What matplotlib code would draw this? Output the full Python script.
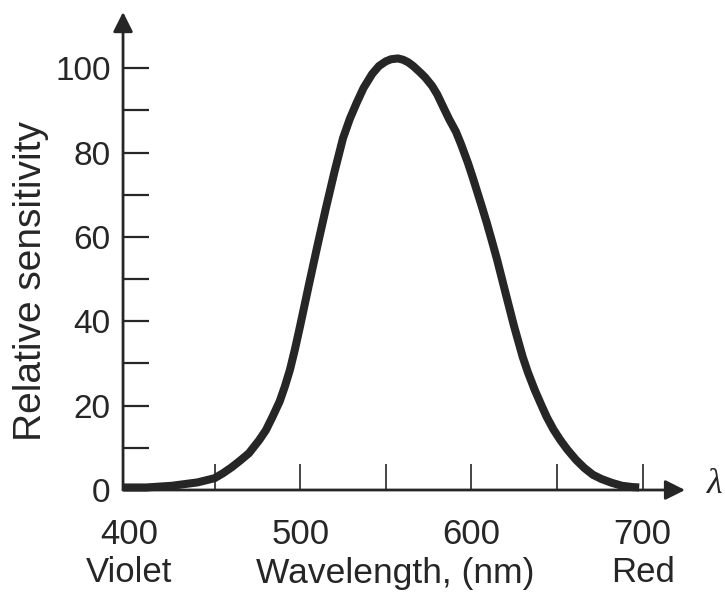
import numpy as np
import matplotlib.pyplot as plt

plt.rcParams['font.family'] = ['Liberation Sans', 'DejaVu Sans']

# читаем кривую с картинки (длина волны, нм -> относительная чувствительность)
wavelength = [397, 410, 425, 440, 450, 455, 460, 465, 470, 476, 480, 484, 488, 491,
              494, 497, 500, 505, 510, 515, 520, 525, 529, 533, 537, 542, 546, 550,
              553, 557, 560, 563, 566, 570, 573, 577, 580, 584, 587, 591, 594, 598,
              601, 604, 606, 609, 612, 615, 620, 625, 630, 633, 637, 641, 644, 648,
              652, 656, 661, 666, 671, 676, 682, 688, 694, 698]
sensitivity = [0.6, 0.6, 1.0, 1.8, 2.8, 4.0, 5.4, 7.0, 8.7, 11.8, 14.2, 17.5, 21.0, 24.5,
               28.5, 33.5, 39.0, 48.5, 57.8, 66.8, 75.4, 83.4, 88.0, 91.8, 95.3, 98.6, 100.5, 101.6,
               102.1, 102.3, 102.0, 101.4, 100.5, 99.0, 97.8, 95.8, 93.8, 90.4, 87.9, 84.9, 81.9, 77.5,
               73.8, 69.9, 67.3, 63.3, 59.0, 54.6, 46.6, 38.7, 31.5, 27.9, 23.7, 20.0, 17.3, 14.3,
               11.8, 9.6, 7.2, 5.2, 3.6, 2.6, 1.7, 1.0, 0.7, 0.6]

y_major = [0, 20, 40, 60, 80, 100]
y_minor = [10, 30, 50, 70, 90]
x_major = [400, 500, 600, 700]
x_labels = ['400\nViolet', '500', '600', '700\nRed']
x_minor = [450, 550, 650]

ink = '#262626'

fig = plt.figure(figsize=(7.25, 5.92), dpi=100)
ax = fig.add_axes([0.1697, 0.1723, 0.7752, 0.8074])
ax.set_xlim(396.5, 724.8)
ax.set_ylim(0, 113.3)

ax.plot(wavelength, sensitivity, color=ink, lw=5.8,
        solid_capstyle='butt', solid_joinstyle='round', clip_on=False, zorder=3)

# оси со стрелками
for s in ax.spines.values():
    s.set_visible(False)
arrow = dict(arrowstyle='-|>,head_length=0.6,head_width=0.3', mutation_scale=20,
             lw=2, color=ink, shrinkA=0, shrinkB=0)
ax.annotate('', xy=(1, 0), xytext=(0, 0), xycoords='axes fraction', arrowprops=arrow)
ax.annotate('', xy=(0, 1), xytext=(0, 0), xycoords='axes fraction', arrowprops=arrow)

ax.set_yticks(y_major)
ax.set_yticks(y_minor, minor=True)
ax.tick_params(axis='y', which='both', direction='in', length=19, width=1.6,
               pad=9, labelsize=24, colors=ink)

ax.set_xticks(x_major, labels=x_labels)
ax.set_xticks(x_minor, minor=True)
ax.tick_params(axis='x', which='both', direction='in', length=19, width=1.2,
               pad=20, labelsize=25, colors=ink)
ax.xaxis.get_major_ticks()[0].tick1line.set_visible(False)

ax.set_xlabel('Wavelength, (nm)', fontsize=25.5, color=ink)
ax.xaxis.label.set_va('baseline')
ax.xaxis.set_label_coords(0.484, -0.195)

ax.set_ylabel('Relative sensitivity', fontsize=28, color=ink)
ax.yaxis.label.set_va('center')
ax.yaxis.set_label_coords(-0.164, 0.437)

ax.text(742, 1.2, 'λ', fontsize=26, family='Liberation Serif', style='italic',
        color=ink, ha='center', va='center', clip_on=False)

fig.savefig('out.png', dpi=100)
